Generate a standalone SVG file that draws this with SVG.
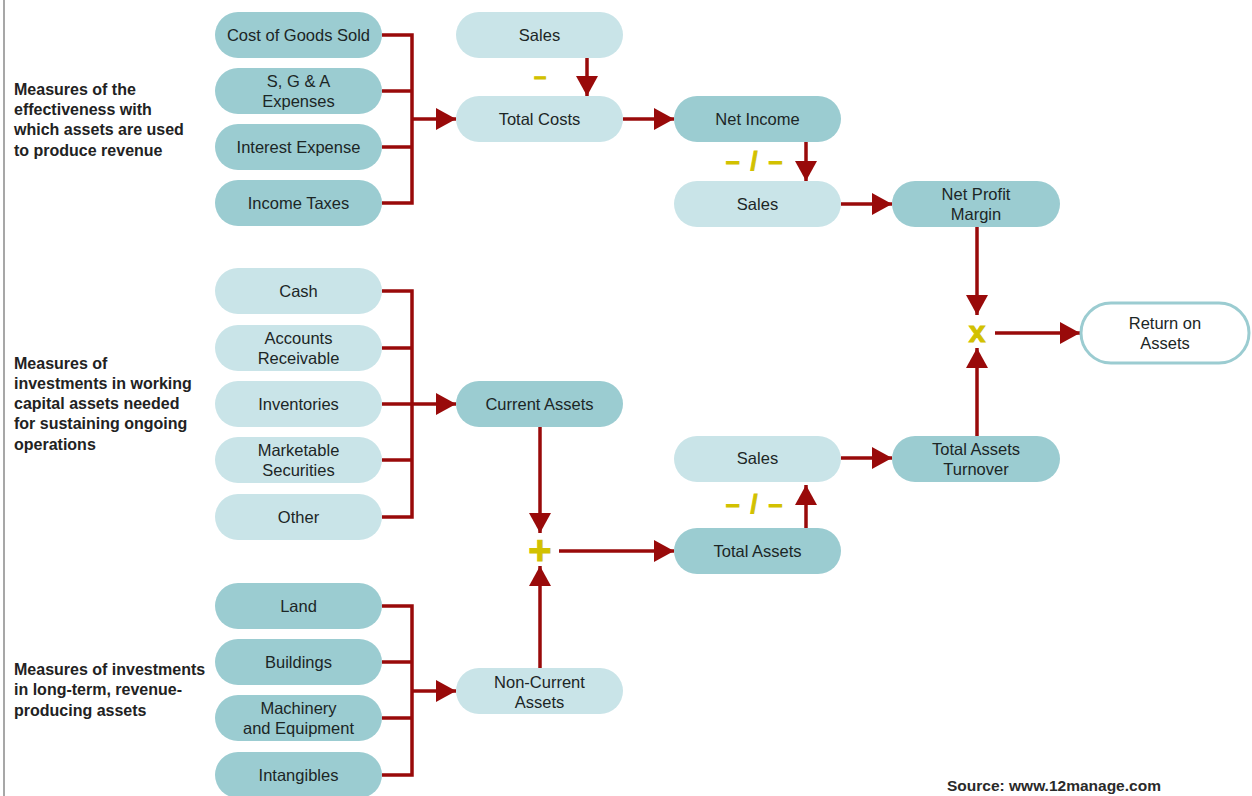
<svg xmlns="http://www.w3.org/2000/svg" width="1252" height="796" viewBox="0 0 1252 796">
  <style>
    .dark { fill: #9bccd1; }
    .light { fill: #c9e4e8; }
    .lbl { font-family: "Liberation Sans", Arial, sans-serif; font-size: 16.5px; fill: #1c2626; text-anchor: middle; }
    .side { font-family: "Liberation Sans", Arial, sans-serif; font-size: 16px; font-weight: bold; fill: #222; }
    .op { font-family: "Liberation Sans", Arial, sans-serif; font-weight: bold; fill: #d2c100; stroke: #d2c100; stroke-width: 1; text-anchor: middle; }
    .wire { fill: none; stroke: #990a0a; stroke-width: 3.5; }
    .arr { fill: none; stroke: #990a0a; stroke-width: 3.5; marker-end: url(#head); }
  </style>
  <defs>
    <marker id="head" markerUnits="userSpaceOnUse" markerWidth="22" markerHeight="22" viewBox="0 0 20 22" refX="20" refY="11" orient="auto">
      <path d="M0,0 L20,11 L0,22 Z" fill="#990a0a"/>
    </marker>
  </defs>

  <rect width="1252" height="796" fill="#ffffff"/>
  <line x1="4" y1="0" x2="4" y2="796" stroke="#8a8a8a" stroke-width="1.5"/>

  <!-- side captions -->
  <g id="caption-effectiveness" class="side">
    <text x="14" y="95">Measures of the</text>
    <text x="14" y="115">effectiveness with</text>
    <text x="14" y="135">which assets are used</text>
    <text x="14" y="156">to produce revenue</text>
  </g>
  <g id="caption-working-capital" class="side">
    <text x="14" y="369">Measures of</text>
    <text x="14" y="389">investments in working</text>
    <text x="14" y="409">capital assets needed</text>
    <text x="14" y="429">for sustaining ongoing</text>
    <text x="14" y="450">operations</text>
  </g>
  <g id="caption-long-term" class="side">
    <text x="14" y="675">Measures of investments</text>
    <text x="14" y="695">in long-term, revenue-</text>
    <text x="14" y="716">producing assets</text>
  </g>

  <!-- connectors -->
  <g id="connectors">
    <!-- cost items into Total Costs -->
    <path class="wire" d="M382,35 H412 V203 H382 M382,91 H412 M382,147 H412"/>
    <path class="arr" d="M412,119 H456"/>
    <path class="arr" d="M587,58 V96"/>
    <path class="arr" d="M623,119 H674"/>
    <path class="arr" d="M806,142 V181"/>
    <path class="arr" d="M841,204 H892"/>
    <path class="arr" d="M977,227 V315"/>
    <path class="arr" d="M995,333 H1080"/>
    <path class="arr" d="M977,436 V348"/>
    <path class="arr" d="M841,458 H892"/>
    <path class="arr" d="M806,528 V485"/>
    <!-- current assets -->
    <path class="wire" d="M382,291 H412 V517 H382 M382,348 H412 M382,460 H412"/>
    <path class="arr" d="M382,404 H456"/>
    <path class="arr" d="M540,427 V533"/>
    <path class="arr" d="M540,668 V566"/>
    <path class="arr" d="M559,551 H674"/>
    <!-- non-current assets -->
    <path class="wire" d="M382,606 H412 V775 H382 M382,662 H412 M382,718 H412"/>
    <path class="arr" d="M412,691 H456"/>
  </g>

  <!-- operators -->
  <g id="operators">
    <text class="op" x="540" y="84" font-size="22">–</text>
    <text class="op" x="755" y="170" font-size="25" letter-spacing="2">– / –</text>
    <text class="op" x="755" y="513" font-size="25" letter-spacing="2">– / –</text>
    <text class="op" x="977" y="342" font-size="30">x</text>
    <text class="op" x="540" y="564" font-size="40">+</text>
  </g>

  <!-- expense nodes -->
  <g id="cogs"><rect class="dark" x="215" y="12" width="167" height="46" rx="23"/><text class="lbl" x="298.5" y="41">Cost of Goods Sold</text></g>
  <g id="sga"><rect class="dark" x="215" y="68" width="167" height="46" rx="23"/><text class="lbl" x="298.5" y="87">S, G &amp; A</text><text class="lbl" x="298.5" y="107">Expenses</text></g>
  <g id="interest"><rect class="dark" x="215" y="124" width="167" height="46" rx="23"/><text class="lbl" x="298.5" y="153">Interest Expense</text></g>
  <g id="taxes"><rect class="dark" x="215" y="180" width="167" height="46" rx="23"/><text class="lbl" x="298.5" y="209">Income Taxes</text></g>

  <!-- income path -->
  <g id="sales-top"><rect class="light" x="456" y="12" width="167" height="46" rx="23"/><text class="lbl" x="539.5" y="41">Sales</text></g>
  <g id="total-costs"><rect class="light" x="456" y="96" width="167" height="46" rx="23"/><text class="lbl" x="539.5" y="125">Total Costs</text></g>
  <g id="net-income"><rect class="dark" x="674" y="96" width="167" height="46" rx="23"/><text class="lbl" x="757.5" y="125">Net Income</text></g>
  <g id="sales-margin"><rect class="light" x="674" y="181" width="167" height="46" rx="23"/><text class="lbl" x="757.5" y="210">Sales</text></g>
  <g id="net-profit-margin"><rect class="dark" x="892" y="181" width="168" height="46" rx="23"/><text class="lbl" x="976" y="200">Net Profit</text><text class="lbl" x="976" y="220">Margin</text></g>

  <!-- result -->
  <g id="return-on-assets"><rect x="1081" y="303" width="168" height="60" rx="30" fill="#ffffff" stroke="#9bccd1" stroke-width="3"/><text class="lbl" x="1165" y="329">Return on</text><text class="lbl" x="1165" y="349">Assets</text></g>

  <!-- turnover path -->
  <g id="total-assets-turnover"><rect class="dark" x="892" y="436" width="168" height="46" rx="23"/><text class="lbl" x="976" y="455">Total Assets</text><text class="lbl" x="976" y="475">Turnover</text></g>
  <g id="sales-turnover"><rect class="light" x="674" y="436" width="167" height="46" rx="23"/><text class="lbl" x="757.5" y="464">Sales</text></g>
  <g id="total-assets"><rect class="dark" x="674" y="528" width="167" height="46" rx="23"/><text class="lbl" x="757.5" y="557">Total Assets</text></g>
  <g id="current-assets"><rect class="dark" x="456" y="381" width="167" height="46" rx="23"/><text class="lbl" x="539.5" y="410">Current Assets</text></g>
  <g id="non-current-assets"><rect class="light" x="456" y="668" width="167" height="46" rx="23"/><text class="lbl" x="539.5" y="688">Non-Current</text><text class="lbl" x="539.5" y="708">Assets</text></g>

  <!-- working capital items -->
  <g id="cash"><rect class="light" x="215" y="268" width="167" height="46" rx="23"/><text class="lbl" x="298.5" y="297">Cash</text></g>
  <g id="receivables"><rect class="light" x="215" y="325" width="167" height="46" rx="23"/><text class="lbl" x="298.5" y="344">Accounts</text><text class="lbl" x="298.5" y="364">Receivable</text></g>
  <g id="inventories"><rect class="light" x="215" y="381" width="167" height="46" rx="23"/><text class="lbl" x="298.5" y="410">Inventories</text></g>
  <g id="securities"><rect class="light" x="215" y="437" width="167" height="46" rx="23"/><text class="lbl" x="298.5" y="456">Marketable</text><text class="lbl" x="298.5" y="476">Securities</text></g>
  <g id="other"><rect class="light" x="215" y="494" width="167" height="46" rx="23"/><text class="lbl" x="298.5" y="523">Other</text></g>

  <!-- long-term items -->
  <g id="land"><rect class="dark" x="215" y="583" width="167" height="46" rx="23"/><text class="lbl" x="298.5" y="612">Land</text></g>
  <g id="buildings"><rect class="dark" x="215" y="639" width="167" height="46" rx="23"/><text class="lbl" x="298.5" y="668">Buildings</text></g>
  <g id="machinery"><rect class="dark" x="215" y="695" width="167" height="46" rx="23"/><text class="lbl" x="298.5" y="714">Machinery</text><text class="lbl" x="298.5" y="734">and Equipment</text></g>
  <g id="intangibles"><rect class="dark" x="215" y="752" width="167" height="46" rx="23"/><text class="lbl" x="298.5" y="781">Intangibles</text></g>

  <text x="947" y="791" font-family="Liberation Sans, Arial, sans-serif" font-size="15.5" font-weight="bold" fill="#2a2a2a">Source: www.12manage.com</text>
</svg>
